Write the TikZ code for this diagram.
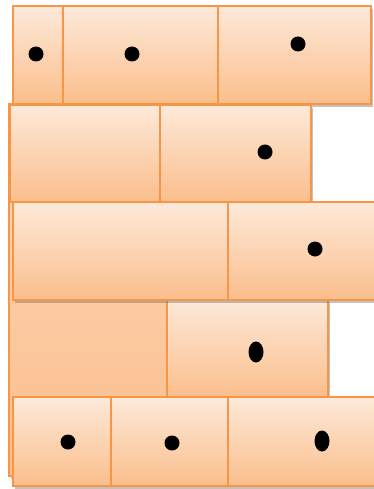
\documentclass[tikz,border=0pt]{standalone}
\usepackage{tikz}
\usetikzlibrary{positioning,shapes.geometric,shadows}
\definecolor{brickline}{RGB}{247,150,70}
\definecolor{bricktop}{RGB}{253,233,217}
\definecolor{brickbot}{RGB}{251,190,140}
\begin{document}
\begin{tikzpicture}[
  x=1pt, y=-1pt,
  brick/.style={draw=brickline, line width=1.7pt, top color=bricktop, bottom color=brickbot, inner sep=0pt, outer sep=0pt, anchor=north west, drop shadow={shadow xshift=1.5pt, shadow yshift=-3pt, opacity=0.4, fill=black!60}},
  backbrick/.style={brick, top color=bricktop!60!brickbot, bottom color=brickbot},
  dot/.style={circle, fill=black, inner sep=0pt, minimum size=15pt},
  tall/.style={ellipse, fill=black, inner sep=0pt, minimum width=15pt, minimum height=21pt}
]
\useasboundingbox (0,0) rectangle (374,489);
% top row
\node[brick, minimum width=50pt, minimum height=98pt] (r1a) at (13,6) {};
\node[brick, minimum width=155pt, minimum height=98pt] (r1b) at (63,6) {};
\node[brick, minimum width=153pt, minimum height=98pt] (r1c) at (218,6) {};
% tall sheet behind rows 2--4
\node[backbrick, minimum width=158pt, minimum height=372pt] (back) at (9,104) {};
% second row
\node[brick, minimum width=150pt, minimum height=97pt] (r2a) at (10,105) {};
\node[brick, minimum width=151pt, minimum height=97pt] (r2b) at (160,105) {};
% fourth row (drawn before the third so its shadow falls on it)
\node[brick, minimum width=161pt, minimum height=97pt] (r4a) at (167,300) {};
% third row
\node[brick, minimum width=215pt, minimum height=98pt] (r3a) at (13,202) {};
\node[brick, minimum width=148pt, minimum height=98pt] (r3b) at (228,202) {};
% bottom row
\node[brick, minimum width=98pt, minimum height=89pt] (r5a) at (13,397) {};
\node[brick, minimum width=117pt, minimum height=89pt] (r5b) at (111,397) {};
\node[brick, minimum width=148pt, minimum height=89pt] (r5c) at (228,397) {};
% dots
\node[dot] (d1a) at (36,54) {};
\node[dot] (d1b) at (132,54) {};
\node[dot] (d1c) at (298,44) {};
\node[dot] (d2b) at (265,152) {};
\node[dot] (d3b) at (315,249) {};
\node[tall] (d4a) at (256,352) {};
\node[dot] (d5a) at (68,442) {};
\node[dot] (d5b) at (172,443) {};
\node[tall] (d5c) at (322,441) {};
\end{tikzpicture}
\end{document}
